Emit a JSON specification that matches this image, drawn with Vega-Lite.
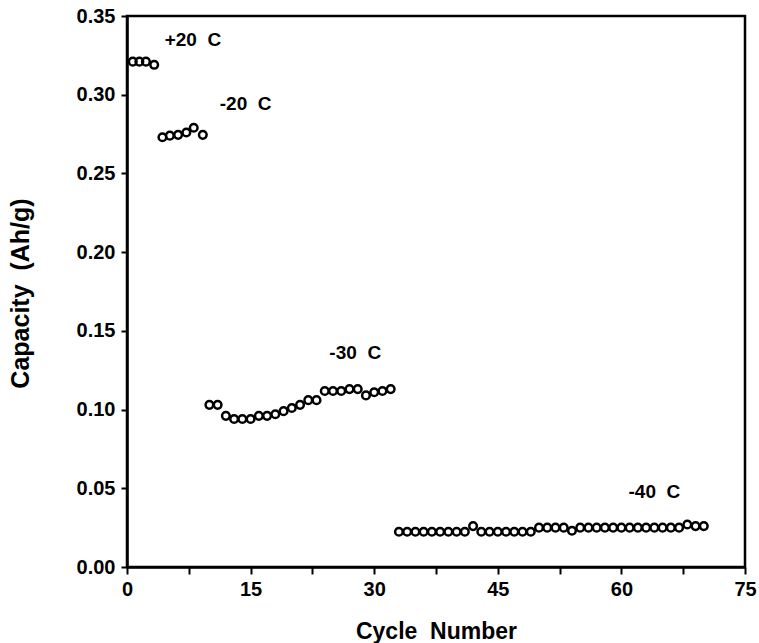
{
  "$schema": "https://vega.github.io/schema/vega-lite/v6.json",
  "width": 618,
  "height": 551,
  "autosize": {"type": "none"},
  "padding": {"left": 127, "top": 16, "right": 14, "bottom": 76},
  "background": "white",
  "config": {
    "view": {"stroke": "black", "strokeWidth": 2.5},
    "font": "Liberation Sans"
  },
  "datasets": {
    "pts": [
      {"cycle": 0.7, "cap": 0.321}, {"cycle": 1.5, "cap": 0.321}, {"cycle": 2.3, "cap": 0.321}, {"cycle": 3.3, "cap": 0.319},
      {"cycle": 4.3, "cap": 0.273}, {"cycle": 5.2, "cap": 0.274}, {"cycle": 6.2, "cap": 0.2745}, {"cycle": 7.2, "cap": 0.276}, {"cycle": 8.1, "cap": 0.279}, {"cycle": 9.2, "cap": 0.2745},
      {"cycle": 10, "cap": 0.103}, {"cycle": 11, "cap": 0.103}, {"cycle": 12, "cap": 0.096}, {"cycle": 13, "cap": 0.094}, {"cycle": 14, "cap": 0.094}, {"cycle": 15, "cap": 0.094},
      {"cycle": 16, "cap": 0.096}, {"cycle": 17, "cap": 0.096}, {"cycle": 18, "cap": 0.097}, {"cycle": 19, "cap": 0.099}, {"cycle": 20, "cap": 0.101}, {"cycle": 21, "cap": 0.103},
      {"cycle": 22, "cap": 0.106}, {"cycle": 23, "cap": 0.106}, {"cycle": 24, "cap": 0.1118}, {"cycle": 25, "cap": 0.1118}, {"cycle": 26, "cap": 0.1118}, {"cycle": 27, "cap": 0.113},
      {"cycle": 28, "cap": 0.113}, {"cycle": 29, "cap": 0.109}, {"cycle": 30, "cap": 0.111}, {"cycle": 31, "cap": 0.1118}, {"cycle": 32, "cap": 0.113},
      {"cycle": 33, "cap": 0.0224}, {"cycle": 34, "cap": 0.0224}, {"cycle": 35, "cap": 0.0224}, {"cycle": 36, "cap": 0.0224}, {"cycle": 37, "cap": 0.0224}, {"cycle": 38, "cap": 0.0224},
      {"cycle": 39, "cap": 0.0224}, {"cycle": 40, "cap": 0.0224}, {"cycle": 41, "cap": 0.0224}, {"cycle": 42, "cap": 0.026}, {"cycle": 43, "cap": 0.0224}, {"cycle": 44, "cap": 0.0224},
      {"cycle": 45, "cap": 0.0224}, {"cycle": 46, "cap": 0.0224}, {"cycle": 47, "cap": 0.0224}, {"cycle": 48, "cap": 0.0224}, {"cycle": 49, "cap": 0.0224}, {"cycle": 50, "cap": 0.025},
      {"cycle": 51, "cap": 0.025}, {"cycle": 52, "cap": 0.025}, {"cycle": 53, "cap": 0.025}, {"cycle": 54, "cap": 0.023}, {"cycle": 55, "cap": 0.025}, {"cycle": 56, "cap": 0.025},
      {"cycle": 57, "cap": 0.025}, {"cycle": 58, "cap": 0.025}, {"cycle": 59, "cap": 0.025}, {"cycle": 60, "cap": 0.025}, {"cycle": 61, "cap": 0.025}, {"cycle": 62, "cap": 0.025},
      {"cycle": 63, "cap": 0.025}, {"cycle": 64, "cap": 0.025}, {"cycle": 65, "cap": 0.025}, {"cycle": 66, "cap": 0.025}, {"cycle": 67, "cap": 0.025}, {"cycle": 68, "cap": 0.027},
      {"cycle": 69, "cap": 0.026}, {"cycle": 70, "cap": 0.026}
    ],
    "labels": [
      {"x": 8.0, "y": 0.335, "text": "+20\u00a0\u00a0C"},
      {"x": 14.4, "y": 0.294, "text": "-20\u00a0\u00a0C"},
      {"x": 27.7, "y": 0.136, "text": "-30\u00a0\u00a0C"},
      {"x": 64, "y": 0.0476, "text": "-40\u00a0\u00a0C"}
    ]
  },
  "layer": [
    {
      "data": {"name": "pts"},
      "mark": {"type": "point", "shape": "circle", "filled": false, "stroke": "black", "strokeWidth": 2.5, "size": 58, "opacity": 1},
      "encoding": {
        "x": {
          "field": "cycle", "type": "quantitative",
          "scale": {"domain": [0, 75], "nice": false, "zero": false},
          "axis": {
            "title": "Cycle\u00a0\u00a0Number",
            "values": [0, 7.5, 15, 22.5, 30, 37.5, 45, 52.5, 60, 67.5, 75],
            "labelExpr": "datum.value % 15 === 0 ? datum.label : ''",
            "grid": false,
            "domainColor": "black",
            "domainWidth": 2.5,
            "ticks": true,
            "tickColor": "black",
            "tickWidth": 2,
            "tickSize": 7,
            "labelPadding": 5,
            "labelColor": "black",
            "labelFont": "Liberation Sans",
            "labelFontWeight": "bold",
            "labelFontSize": 20,
            "titleFont": "Liberation Sans",
            "titleFontWeight": "bold",
            "titleFontSize": 23,
            "titleColor": "black",
            "titleY": 64,
            "titleBaseline": "middle",
            "labelFlush": false
          }
        },
        "y": {
          "field": "cap", "type": "quantitative",
          "scale": {"domain": [0, 0.35], "nice": false},
          "axis": {
            "title": "Capacity\u00a0\u00a0(Ah/g)",
            "values": [0, 0.025, 0.05, 0.075, 0.1, 0.125, 0.15, 0.175, 0.2, 0.225, 0.25, 0.275, 0.3, 0.325, 0.35],
            "labelExpr": "round(datum.value * 1000) % 50 === 0 ? format(datum.value, '.2f') : ''",
            "grid": false,
            "domainColor": "black",
            "domainWidth": 2.5,
            "ticks": true,
            "tickColor": "black",
            "tickWidth": 2,
            "tickSize": 6,
            "labelPadding": 6,
            "labelColor": "black",
            "labelFont": "Liberation Sans",
            "labelFontWeight": "bold",
            "labelFontSize": 20,
            "titleFont": "Liberation Sans",
            "titleFontWeight": "bold",
            "titleFontSize": 25,
            "titleColor": "black",
            "titleX": -107,
            "titleY": 277,
            "titleAngle": -90,
            "titleAlign": "center",
            "titleBaseline": "middle",
            "labelFlush": false
          }
        }
      }
    },
    {
      "data": {"name": "labels"},
      "mark": {"type": "text", "font": "Liberation Sans", "fontWeight": "bold", "fontSize": 19, "color": "black", "align": "center", "baseline": "middle"},
      "encoding": {
        "x": {"field": "x", "type": "quantitative"},
        "y": {"field": "y", "type": "quantitative"},
        "text": {"field": "text"}
      }
    }
  ]
}
